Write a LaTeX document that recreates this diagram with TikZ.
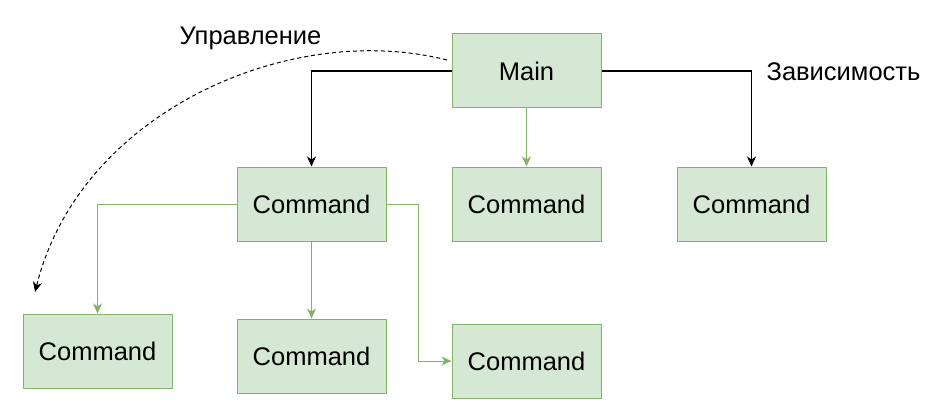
\documentclass[tikz,border=0pt]{standalone}
\usepackage{fontspec}
\setmainfont{Liberation Sans}
\usetikzlibrary{arrows.meta}
\definecolor{gfill}{HTML}{D5E8D4}
\definecolor{gline}{HTML}{82B366}
\tikzset{
  box/.style={draw=gline, fill=gfill, line width=1pt, minimum width=149pt, minimum height=74pt, inner sep=0pt, font=\fontsize{25.5}{30}\selectfont},
  lbl/.style={inner sep=0pt, font=\fontsize{25.5}{30}\selectfont},
  blk/.style={draw=black, line width=1.2pt, -{Stealth[length=10pt,width=9pt,inset=3pt]}},
  grn/.style={draw=gline, line width=1pt, -{Stealth[length=10pt,width=9pt,inset=3pt]}},
}
\begin{document}
\begin{tikzpicture}[x=1pt,y=-1pt]
\useasboundingbox (0,0) rectangle (937,417);
\node[box] (main) at (526.5,71) {Main};
\node[box] (c1) at (311.5,204) {Command};
\node[box] (c2) at (526.5,204) {Command};
\node[box] (c3) at (751.5,204) {Command};
\node[box] (c4) at (97.5,351) {Command};
\node[box] (c5) at (311.5,356) {Command};
\node[box] (c6) at (526.5,361) {Command};
\node[lbl] (l1) at (250.5,38) {Управление};
\node[lbl] (l2) at (843.5,72) {Зависимость};
\coordinate (cs) at (447,60);
\coordinate (ce) at (35,292);
\draw[blk] (main.west) -| (c1.north);
\draw[blk] (main.east) -| (c3.north);
\draw[grn] (main.south) -- (c2.north);
\draw[grn] (c1.west) -| (c4.north);
\draw[grn] (c1.south) -- (c5.north);
\draw[grn] (c1.east) -- (418,204) |- (c6.west);
\draw[black, line width=1pt, dashed, dash pattern=on 4pt off 3pt, -{Stealth[length=10pt,width=9pt,inset=3pt]}] (cs) .. controls (290,20) and (80,112) .. (ce);
\end{tikzpicture}
\end{document}
